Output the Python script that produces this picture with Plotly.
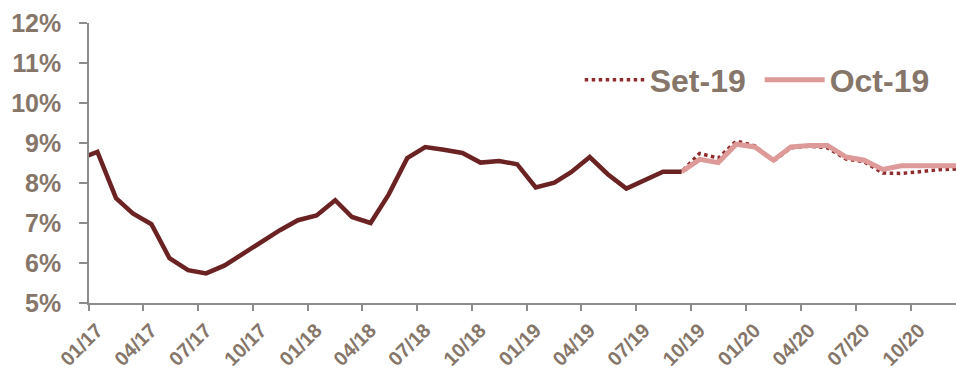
import plotly.graph_objects as go

# Actual series (mid-month observations)
actual_dates = ["2016-12-15", "2017-01-15", "2017-02-15", "2017-03-15", "2017-04-15", "2017-05-15",
                "2017-06-15", "2017-07-15", "2017-08-15", "2017-09-15", "2017-10-15", "2017-11-15",
                "2017-12-15", "2018-01-15", "2018-02-15", "2018-03-15", "2018-04-15", "2018-05-15",
                "2018-06-15", "2018-07-15", "2018-08-15", "2018-09-15", "2018-10-15", "2018-11-15",
                "2018-12-15", "2019-01-15", "2019-02-15", "2019-03-15", "2019-04-15", "2019-05-15",
                "2019-06-15", "2019-07-15", "2019-08-15", "2019-09-15"]
actual_vals = [8.60, 8.78, 7.62, 7.24, 6.97, 6.12,
               5.82, 5.74, 5.94, 6.24, 6.55, 6.82,
               7.07, 7.19, 7.57, 7.15, 7.00, 7.71,
               8.62, 8.90, 8.83, 8.75, 8.51, 8.55,
               8.47, 7.89, 8.01, 8.27, 8.65, 8.22,
               7.86, 8.07, 8.28, 8.28]

# Forecast made in September 2019
set19_dates = ["2019-08-15", "2019-09-15", "2019-10-15", "2019-11-15", "2019-12-15", "2020-01-15",
               "2020-02-15", "2020-03-15", "2020-04-15", "2020-05-15", "2020-06-15", "2020-07-15",
               "2020-08-15", "2020-09-15", "2020-10-15", "2020-11-15", "2020-12-15"]
set19_vals = [8.28, 8.28, 8.74, 8.62, 9.05, 8.93,
              8.55, 8.88, 8.92, 8.88, 8.60, 8.53,
              8.25, 8.24, 8.28, 8.33, 8.35]

# Forecast made in October 2019
oct19_dates = ["2019-09-15", "2019-10-15", "2019-11-15", "2019-12-15", "2020-01-15", "2020-02-15",
               "2020-03-15", "2020-04-15", "2020-05-15", "2020-06-15", "2020-07-15", "2020-08-15",
               "2020-09-15", "2020-10-15", "2020-11-15", "2020-12-15"]
oct19_vals = [8.28, 8.59, 8.51, 8.97, 8.90, 8.57,
              8.90, 8.94, 8.94, 8.65, 8.57, 8.34,
              8.43, 8.43, 8.43, 8.43]

TXT = "#86766A"
FONT = "Liberation Sans, Arial, sans-serif"

fig = go.Figure()
fig.add_trace(go.Scatter(x=set19_dates, y=set19_vals, name="Set-19\u00a0", mode="lines",
                         line=dict(color="#8E2B2B", width=3.5, dash="dot")))
fig.add_trace(go.Scatter(x=oct19_dates, y=oct19_vals, name="Oct-19", mode="lines",
                         line=dict(color="#DE9A98", width=5)))
fig.add_trace(go.Scatter(x=actual_dates, y=actual_vals, name="Actual", mode="lines",
                         showlegend=False, line=dict(color="#6B2222", width=4.5)))

fig.update_layout(
    width=956, height=369,
    margin=dict(l=89, r=0, t=23, b=66),
    plot_bgcolor="white", paper_bgcolor="white",
    font=dict(family=FONT, color=TXT),
    showlegend=True,
    legend=dict(orientation="h", x=0.566, y=0.797, xanchor="left", yanchor="middle",
                font=dict(size=32, color=TXT, family=FONT, weight="bold"),
                bgcolor="rgba(0,0,0,0)", itemwidth=60, tracegroupgap=0),
)
fig.update_xaxes(
    type="date", range=["2017-01-01", "2020-12-15"],
    tick0="2017-01-01", dtick="M3", tickformat="%m/%y", tickangle=-45,
    tickfont=dict(size=20, color=TXT, family=FONT, weight="bold"),
    showgrid=False, zeroline=False, automargin=False,
    showline=True, linecolor="#8C8C8C", linewidth=1.5,
    ticks="outside", ticklen=6, tickcolor="#8C8C8C", tickwidth=1.5,
    ticklabelshift=8,
)
fig.update_yaxes(
    range=[5, 12], dtick=1, tick0=5, ticksuffix="%",
    tickfont=dict(size=25, color=TXT, family=FONT, weight="bold"),
    showgrid=False, zeroline=False, automargin=False,
    showline=True, linecolor="#8C8C8C", linewidth=1.5,
    ticks="outside", ticklen=8, tickcolor="#8C8C8C", tickwidth=1.5,
    ticklabelstandoff=13,
)

fig.write_html("out.html", config={"displayModeBar": False},
               post_script="document.body.style.margin='0';document.body.style.overflow='hidden';")
